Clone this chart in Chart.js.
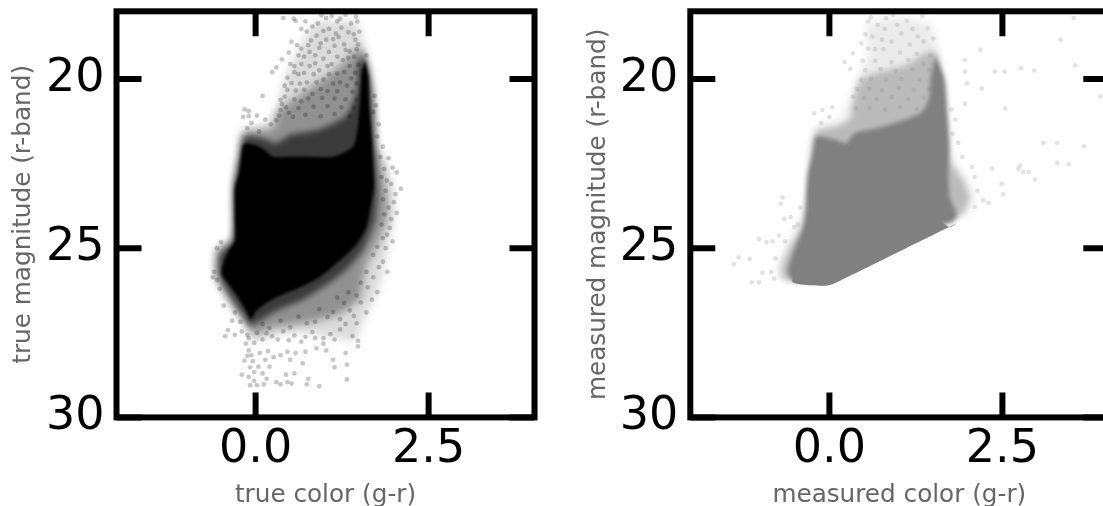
<!DOCTYPE html>
<html>
<head>
<meta charset="utf-8">
<title>color magnitude</title>
<script src="https://cdn.jsdelivr.net/npm/chart.js@4"></script>
<style>
html, body { margin: 0; padding: 0; background: #fff; overflow: hidden; }
#wrap { position: relative; width: 1103px; height: 506px; overflow: hidden; }
canvas { position: absolute; top: 0; filter: blur(0.4px); }
#leftChart { left: 0; }
#rightChart { left: 560px; }
</style>
</head>
<body>
<div id="wrap">
  <canvas id="leftChart" width="560" height="506"></canvas>
  <canvas id="rightChart" width="560" height="506"></canvas>
</div>
<script>
// tick labels
const xTicks = [0, 2.5];
const yTicks = [20, 25, 30];

// left panel: density outlines, [color, magnitude]
const trueCore = [[1.58,19.44],[1.63,19.93],[1.64,20.82],[1.68,21.81],[1.70,22.60],[1.71,23.20],[1.66,23.79],[1.60,24.38],[1.46,24.88],[1.27,25.27],[1.07,25.62],[0.88,25.91],[0.64,26.16],[0.40,26.36],[0.16,26.61],[0.01,26.85],[-0.07,27.10],[-0.15,26.80],[-0.27,26.40],[-0.39,26.06],[-0.49,25.77],[-0.47,25.47],[-0.39,25.07],[-0.30,24.78],[-0.30,24.09],[-0.30,23.20],[-0.24,22.80],[-0.19,22.00],[-0.15,21.90],[0.06,22.00],[0.26,22.30],[0.45,22.30],[0.74,22.30],[1.12,22.30],[1.41,22.00],[1.48,21.40],[1.51,20.60],[1.53,19.80]];
const trueInner = [[1.55,19.20],[1.65,20.00],[1.70,21.00],[1.73,22.10],[1.76,23.20],[1.72,24.20],[1.55,25.05],[1.30,25.65],[1.05,26.05],[0.70,26.50],[0.30,26.85],[0.02,27.20],[-0.08,27.30],[-0.20,26.95],[-0.36,26.45],[-0.52,25.85],[-0.52,25.20],[-0.34,24.80],[-0.32,23.20],[-0.22,22.20],[-0.16,21.70],[0.10,21.75],[0.30,21.90],[0.50,21.65],[0.90,21.50],[1.30,21.10],[1.46,20.40],[1.48,19.60]];
const trueMid = [[1.51,19.00],[1.63,19.60],[1.70,20.60],[1.74,21.90],[1.82,22.60],[1.90,23.50],[1.90,24.10],[1.78,24.80],[1.60,25.50],[1.50,26.50],[1.20,26.95],[0.74,27.20],[0.26,27.35],[-0.03,27.55],[-0.15,27.15],[-0.37,26.55],[-0.56,25.87],[-0.56,25.03],[-0.32,24.73],[-0.31,23.20],[-0.25,22.30],[-0.18,21.55],[0.16,21.50],[0.28,21.40],[0.30,21.00],[0.74,20.33],[1.03,19.93],[1.31,19.44]];
const trueOuter = [[1.46,18.30],[1.57,19.00],[1.66,19.90],[1.72,20.60],[1.74,21.90],[1.90,22.50],[1.99,23.30],[2.00,24.10],[1.90,25.10],[1.78,26.20],[1.56,27.10],[1.45,27.70],[1.00,27.60],[0.62,27.50],[0.26,27.60],[-0.03,27.75],[-0.17,27.30],[-0.35,26.80],[-0.58,25.90],[-0.60,25.40],[-0.55,25.00],[-0.32,24.70],[-0.30,23.20],[-0.24,22.30],[-0.18,21.60],[0.15,21.30],[0.28,21.00],[0.42,20.00],[0.60,19.20],[0.85,18.30]];

// left panel: loose single points
const truePoints = [
[0.40,18.20],[0.55,18.22],[0.58,18.28],[0.95,18.12],[1.02,18.20],[1.30,18.10],[1.45,18.16],[1.47,18.30],[1.18,18.30],[0.74,18.60],[0.82,18.45],[0.88,18.72],[1.06,18.52],[1.24,18.48],[1.34,18.62],[1.50,18.60],[1.44,18.84],[0.52,18.90],[0.60,19.00],[0.48,19.22],[0.38,19.42],[0.30,19.66],[0.24,19.80],[0.66,19.10],[0.76,19.00],[0.94,18.95],[1.12,18.82],[1.28,18.98],[1.36,19.18],[1.06,19.20],[0.86,19.30],[0.70,19.34],[0.56,19.62],[0.46,19.96],[0.52,20.12],[0.62,19.86],[0.78,19.62],[0.92,19.74],[1.10,19.56],[1.26,19.44],[1.42,19.34],[1.60,19.30],[1.18,19.84],[0.98,20.02],[0.74,20.10],[0.58,20.34],[0.42,20.52],[0.38,20.74],[0.36,20.92],[0.10,20.50],[-0.10,20.95],[-0.16,20.90],[-0.10,21.10],[-0.18,21.12],[-0.06,21.30],[0.02,21.08],[0.14,21.20],[0.22,21.34],[0.30,21.22],[-0.12,21.45],[0.05,21.55],[0.48,21.00],[0.66,20.66],[0.82,20.44],[1.04,20.36],[1.22,20.10],[1.38,19.98],[1.72,20.50],[1.74,20.78],[1.70,20.98],[1.78,21.34],[1.76,21.70],[1.84,22.00],[1.92,22.34],[1.98,22.62],[2.04,22.76],[2.10,23.24],[1.96,23.10],[2.02,23.40],[2.00,23.64],[2.04,23.96],[1.96,24.14],[1.94,24.40],[1.98,24.80],[1.90,24.60],[1.88,25.00],[1.84,25.40],[1.90,25.70],[1.70,25.86],[1.76,26.30],[1.68,26.52],[1.52,26.60],[1.60,26.90],[1.42,27.00],[1.46,27.22],[1.48,27.74],[1.40,27.60],[1.22,27.40],[1.08,27.54],[0.98,27.66],[0.82,27.48],[0.72,27.62],[0.56,27.58],[0.40,27.46],[0.24,27.60],[0.10,27.70],[-0.02,27.80],[-0.12,27.56],[-0.20,27.46],[-0.30,27.56],[-0.44,27.60],[-0.40,27.42],[-0.34,27.14],[-0.46,26.70],[-0.30,26.90],[-0.62,25.86],[-0.60,25.70],[-0.56,25.94],[-0.52,26.20],[-0.56,25.00],[-0.50,24.82],[-0.14,27.82],[-0.10,28.02],[-0.06,28.16],[-0.04,28.34],[-0.12,28.18],[-0.08,28.52],[-0.02,28.66],[-0.10,28.80],[-0.02,28.92],[-0.16,28.32],[-0.20,28.74],[-0.08,29.05],[0.02,29.05],[0.12,29.02],[0.10,28.70],[0.16,28.86],[0.04,28.50],[0.14,28.30],[0.06,28.10],[0.18,28.04],[0.26,28.22],[0.20,28.50],[0.30,28.96],[0.36,29.02],[0.46,28.96],[0.52,29.00],[0.56,28.70],[0.44,28.74],[0.50,28.30],[0.58,28.10],[0.46,28.06],[0.36,28.16],[0.72,28.06],[0.68,28.40],[0.76,28.86],[0.74,29.02],[0.92,29.08],[1.12,28.30],[1.14,28.52],[1.30,28.10],[1.32,28.44],[1.32,28.88],[1.48,27.90],[0.88,27.96],[0.98,27.82],[1.02,28.02],
[0.72,18.30],[0.90,18.36],[1.10,18.14],[1.22,18.22],[1.38,18.36],[0.66,18.52],[0.98,18.58],[1.16,18.66],[1.42,18.68],[0.80,18.86],[1.02,18.84],[1.20,18.76],[1.48,18.98],[0.92,19.08],[1.14,19.02],[1.30,19.14],[1.46,19.12],[0.62,19.30],[0.78,19.20],[0.98,19.40],[1.18,19.34],[1.34,19.38],[0.50,19.56],[0.66,19.56],[0.86,19.54],[1.04,19.62],[1.36,19.62],[1.48,19.58],[0.56,19.80],[0.70,19.82],[0.84,19.86],[1.06,19.86],[1.28,19.80],[1.44,19.82],[0.42,20.20],[0.64,20.14],[0.88,20.10],[1.12,20.14],[1.32,20.20],[1.46,20.14],[0.46,20.32],[0.70,20.32],[0.94,20.30],[1.18,20.36],[1.40,20.38],[0.36,20.62],[0.56,20.60],[0.76,20.58],[0.96,20.56],[1.14,20.58],[1.30,20.60],[1.46,20.62],[0.44,20.84],[0.62,20.86],[0.84,20.82],[1.04,20.80],[1.24,20.84],[1.42,20.86],[0.34,21.08],[0.54,21.12],[0.72,21.06],[0.94,21.10],[1.14,21.04],[1.36,21.10],[1.52,21.20],
[1.80,22.30],[1.86,22.66],[1.82,22.90],[1.90,23.00],[1.88,23.30],[1.84,23.56],[1.92,23.80],[1.86,24.00],[1.82,24.30],[1.84,24.70],[1.76,24.96],[1.70,25.20],[1.78,25.56],[1.60,25.70],[1.52,26.02],[1.62,26.16],[1.46,26.40],[1.34,26.30],[1.28,26.62],[1.18,26.46],[1.36,26.84],[1.12,26.88],[1.22,27.10],[1.04,27.04],[0.92,26.80],[0.86,27.18],[0.74,27.22],[0.62,27.02],[0.50,27.34],[0.36,27.14],[0.20,27.36],[0.10,27.24],[-0.22,27.18],[-0.10,27.66],[0.02,27.50],[0.16,27.52],[0.32,27.70],[0.48,27.72],[0.66,27.76],[0.86,27.66],[1.14,27.70],[1.30,27.24]
];

// right panel
const measCore = [[1.55,19.53],[1.61,20.03],[1.64,21.02],[1.67,21.90],[1.64,22.80],[1.62,23.60],[1.62,24.18],[1.74,24.38],[1.84,24.26],[0.05,26.06],[-0.05,26.11],[-0.34,26.09],[-0.53,26.01],[-0.51,25.67],[-0.41,25.07],[-0.31,24.48],[-0.29,23.99],[-0.29,23.39],[-0.27,22.90],[-0.19,22.30],[-0.15,21.81],[0.10,22.00],[0.24,22.10],[0.39,21.90],[0.73,21.80],[1.11,21.60],[1.35,21.40],[1.50,20.90],[1.52,20.03]];
const measInner = [[1.53,19.30],[1.66,20.00],[1.70,21.00],[1.73,21.90],[1.72,22.80],[1.74,23.50],[1.84,24.00],[1.78,24.22],[1.55,24.35],[0.05,25.95],[-0.53,25.95],[-0.60,25.65],[-0.50,25.00],[-0.38,24.40],[-0.34,23.90],[-0.33,23.30],[-0.31,22.80],[-0.24,22.20],[-0.19,21.70],[0.10,21.80],[0.24,21.90],[0.36,21.60],[0.70,21.45],[1.10,21.20],[1.32,21.00],[1.44,20.60],[1.46,20.00]];
const measMid = [[1.55,19.20],[1.64,20.13],[1.69,21.40],[1.74,22.40],[1.93,23.00],[2.02,23.50],[1.92,24.00],[1.60,24.30],[0.05,25.90],[-0.53,25.96],[-0.66,25.95],[-0.70,25.60],[-0.58,24.98],[-0.39,24.29],[-0.31,23.39],[-0.27,22.30],[-0.19,21.55],[0.10,21.40],[0.29,21.20],[0.34,20.70],[0.44,20.03],[0.70,19.80],[1.10,19.60],[1.40,19.20]];
const measOuter = [[1.47,18.40],[1.56,19.00],[1.66,20.13],[1.72,21.40],[1.80,22.40],[2.00,23.00],[2.10,23.50],[1.98,23.96],[1.60,24.20],[-0.66,25.94],[-0.74,25.50],[-0.60,24.90],[-0.40,24.10],[-0.33,23.40],[-0.29,22.30],[-0.20,21.45],[0.15,21.20],[0.30,20.60],[0.42,19.90],[0.56,19.30],[0.55,18.40],[1.00,18.15]];
const measPoints = [
[3.34,18.84],[3.53,18.20],[2.18,19.14],[1.96,19.44],[1.96,19.78],[2.39,19.78],[2.53,19.78],[2.77,19.68],[2.96,19.75],[3.55,19.60],[2.20,20.28],[1.99,20.13],[3.91,20.52],[1.96,20.73],[2.54,20.87],[3.09,21.89],[3.29,21.89],[3.68,21.99],[3.29,22.48],[3.46,22.52],[2.76,22.55],[2.73,22.65],[2.80,22.75],[2.88,22.75],[2.97,22.97],[2.35,22.65],[2.49,23.10],[2.51,23.41],[2.22,23.59],[2.30,23.66],[-1.38,25.47],[-1.31,25.27],[-1.15,25.32],[-1.02,24.73],[-0.91,24.83],[-0.82,24.80],[-0.73,24.63],[-0.65,24.13],[-0.56,24.08],[-0.68,23.50],[-0.70,23.69],[-0.51,24.38],[-1.12,26.01],[-1.02,26.01],[-0.97,25.72],[-0.22,21.02],[-0.10,20.92],[0.00,21.12],[-0.12,21.30],[0.04,20.84],[0.30,19.70],[0.22,19.50],[0.34,19.24],[0.46,18.95],[0.52,18.68],[0.56,18.30],[0.60,18.18],[0.70,18.40],[0.82,18.20],[0.92,18.10],[1.12,18.28],[1.34,18.14],[1.42,18.50],[1.28,18.74],[1.04,18.66],[0.76,18.84],[0.66,19.12],[1.50,18.80],[1.76,20.90],[1.82,21.20],[1.78,21.62],[1.86,21.88],[1.92,22.30],[2.06,22.60],[2.10,22.90],[2.14,23.30],[2.10,23.78],[-0.42,23.80],[-0.46,24.30],[-0.80,25.90],[-0.84,25.70],[-0.78,25.30],[-0.64,24.80],
[0.80,18.52],[0.98,18.40],[1.20,18.52],[0.62,18.74],[0.90,18.90],[1.16,18.98],[1.36,18.90],[0.56,19.10],[0.78,19.12],[1.02,19.22],[1.26,19.26],[1.46,19.30],[0.48,19.46],[0.66,19.46],[0.90,19.50],[1.14,19.44],[1.36,19.54],[0.52,19.74],[0.74,19.70],[0.96,19.76],[1.20,19.72],[1.44,19.74],[0.46,20.02],[0.60,20.00],[0.82,20.02],[1.04,20.00],[1.30,20.02],[0.40,20.30],[0.58,20.28],[0.76,20.34],[1.00,20.26],[1.22,20.32],[1.44,20.30],[0.34,20.52],[0.50,20.56],[0.68,20.60],[0.90,20.54],[1.14,20.60],[1.36,20.56],[0.38,20.86],[0.58,20.86],[0.80,20.90],[1.02,20.84],[1.26,20.88]
];

// dataset builders
function outline(points, color, soft) {
    return {
        data: points.map(p => ({ x: p[0], y: p[1] })),
        showLine: true,
        fill: 'shape',
        borderWidth: 0,
        borderColor: 'rgba(0,0,0,0)',
        backgroundColor: color,
        pointRadius: 0,
        tension: 0.2,
        soft: soft
    };
}

function loose(points, color) {
    return {
        data: points.map(p => ({ x: p[0], y: p[1] })),
        showLine: false,
        pointRadius: 2.4,
        pointBorderWidth: 0,
        pointBackgroundColor: color,
        soft: 0
    };
}

// the clouds have no hard edge, so the outlines get drawn through a canvas blur
function softFilter(chart, index) {
    const ds = chart.data.datasets[index];
    chart.ctx.filter = ds && ds.soft ? 'blur(' + ds.soft + 'px)' : 'none';
}

const softPlugin = {
    id: 'soft',
    beforeDatasetsDraw(chart) {
        softFilter(chart, chart.data.datasets.length - 1);
    },
    afterDatasetDraw(chart, args) {
        softFilter(chart, args.index - 1);
    },
    afterDatasetsDraw(chart) {
        chart.ctx.filter = 'none';
    }
};

// frame and inward ticks on all four sides
const framePlugin = {
    id: 'frame',
    afterDraw(chart) {
        const { ctx, chartArea: a, scales } = chart;
        ctx.save();
        ctx.strokeStyle = '#000';
        ctx.lineWidth = 6;
        ctx.lineCap = 'butt';
        ctx.strokeRect(a.left, a.top, a.right - a.left, a.bottom - a.top);
        ctx.beginPath();
        xTicks.forEach(v => {
            const px = scales.x.getPixelForValue(v);
            ctx.moveTo(px, a.top); ctx.lineTo(px, a.top + 25);
            ctx.moveTo(px, a.bottom); ctx.lineTo(px, a.bottom - 25);
        });
        yTicks.forEach(v => {
            const py = scales.y.getPixelForValue(v);
            ctx.moveTo(a.left, py); ctx.lineTo(a.left + 25, py);
            ctx.moveTo(a.right, py); ctx.lineTo(a.right - 25, py);
        });
        ctx.stroke();
        ctx.restore();
    }
};

function makeChart(id, datasets, xTitle, yTitle, axisLeft, titleTop) {
    return new Chart(document.getElementById(id), {
        type: 'scatter',
        data: { datasets: datasets },
        plugins: [softPlugin, framePlugin],
        options: {
            responsive: false,
            animation: false,
            layout: { padding: { top: 11.3, right: 560 - axisLeft - 418, bottom: 0, left: 0 } },
            plugins: { legend: { display: false }, tooltip: { enabled: false } },
            scales: {
                x: {
                    type: 'linear',
                    min: -2.01,
                    max: 4.03,
                    afterFit: s => { s.height = 88.6; s.paddingLeft = 0; s.paddingRight = 0; },
                    afterBuildTicks: s => { s.ticks = xTicks.map(v => ({ value: v })); },
                    grid: { display: false },
                    border: { display: false },
                    ticks: {
                        padding: -3, maxRotation: 0, color: '#000',
                        font: { family: 'DejaVu Sans', size: 46 },
                        callback: v => v.toFixed(1)
                    },
                    title: {
                        display: true, text: xTitle, color: '#666',
                        font: { family: 'DejaVu Sans', size: 24.7 },
                        padding: { top: 0, bottom: -4 }
                    }
                },
                y: {
                    type: 'linear',
                    reverse: true,
                    min: 18,
                    max: 30,
                    afterFit: s => { s.width = axisLeft; s.paddingTop = 0; s.paddingBottom = 0; },
                    afterBuildTicks: s => { s.ticks = yTicks.map(v => ({ value: v })); },
                    grid: { display: false },
                    border: { display: false },
                    ticks: {
                        padding: 4, color: '#000',
                        font: { family: 'DejaVu Sans', size: 46 },
                        callback: v => String(v)
                    },
                    title: {
                        display: true, text: yTitle, color: '#666',
                        font: { family: 'DejaVu Sans', size: 24.7 },
                        padding: { top: titleTop, bottom: 0 }
                    }
                }
            }
        }
    });
}

makeChart('leftChart', [
    outline(trueCore, '#000', 1.5),
    outline(trueInner, 'rgba(0,0,0,0.6)', 3),
    outline(trueMid, 'rgba(0,0,0,0.34)', 4),
    outline(trueOuter, 'rgba(0,0,0,0.14)', 4),
    loose(truePoints, 'rgba(0,0,0,0.22)')
], 'true color (g-r)', 'true magnitude (r-band)', 116.5, 9);

makeChart('rightChart', [
    outline(measCore, '#808080', 0),
    outline(measInner, '#808080', 2),
    outline(measMid, 'rgba(128,128,128,0.45)', 3),
    outline(measOuter, 'rgba(128,128,128,0.16)', 4),
    loose(measPoints, 'rgba(128,128,128,0.22)')
], 'measured color (g-r)', 'measured magnitude (r-band)', 130.3, 24);
</script>
</body>
</html>
